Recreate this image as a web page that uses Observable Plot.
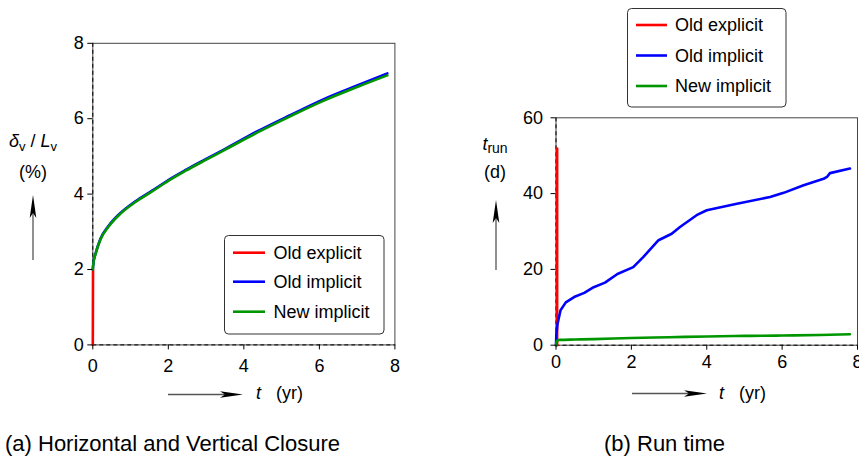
<!DOCTYPE html>
<html><head><meta charset="utf-8">
<script src="https://cdn.jsdelivr.net/npm/d3@7"></script>
<script src="https://cdn.jsdelivr.net/npm/@observablehq/plot@0.6"></script>
<style>
html,body{margin:0;padding:0;background:#fff;overflow:hidden;}
#root{position:relative;width:859px;height:463px;overflow:hidden;font-family:"Liberation Sans",Arial,sans-serif;}
.panel{position:absolute;top:0;}
#overlay{position:absolute;left:0;top:0;}
</style></head><body><div id="root"><div id="pa" class="panel" style="left:0;width:430px"></div><div id="pb" class="panel" style="left:430px;width:440px"></div></div>
<script>
// ---- data ----
const seriesNames = ["Old explicit", "Old implicit", "New implicit"];
const seriesColors = ["#ff0000", "#0000ff", "#009600"];
const xTicks = [0, 2, 4, 6, 8];
const yTicksA = [0, 2, 4, 6, 8];
const yTicksB = [0, 20, 40, 60];

// (a) closure δv/Lv (%) vs t (yr)
const tA_explicit = [0, 0.003, 0.006];
const dA_explicit = [0, 1.0, 2.0];
const tA_implicit = [0, 0.02, 0.07, 0.2, 0.42, 0.69, 1.13, 1.57, 2.01, 2.46, 2.94, 3.47, 4.35, 5.24, 6.12, 7.0, 7.8];
const dA_oldImplicit = [2.0, 2.2, 2.41, 2.81, 3.16, 3.46, 3.81, 4.09, 4.38, 4.64, 4.9, 5.18, 5.66, 6.1, 6.52, 6.88, 7.2];
const dA_newImplicit = [2.0, 2.2, 2.4, 2.79, 3.14, 3.44, 3.79, 4.07, 4.36, 4.62, 4.88, 5.16, 5.63, 6.07, 6.48, 6.84, 7.15];

// (b) run time t_run (d) vs t (yr)
const tB_explicit = [0.03, 0.03];
const rB_explicit = [0, 51.9];
const tB_oldImplicit = [0, 0.01, 0.04, 0.12, 0.26, 0.48, 0.75, 1.0, 1.3, 1.63, 2.05, 2.32, 2.72, 3.07, 3.29, 3.73, 4.0, 4.8, 5.68, 6.04, 6.57, 7.1, 7.2, 7.27, 7.8];
const rB_oldImplicit = [0, 3, 5.6, 9.2, 11.3, 12.7, 13.8, 15.3, 16.5, 18.8, 20.6, 23.3, 27.7, 29.4, 31.2, 34.3, 35.6, 37.3, 39.1, 40.2, 42.2, 43.9, 44.5, 45.4, 46.6];
const tB_newImplicit = [0, 0.02, 0.1, 0.5, 1, 2, 3, 4, 5, 6, 7, 7.8];
const rB_newImplicit = [0, 1.1, 1.4, 1.5, 1.6, 1.9, 2.1, 2.3, 2.45, 2.55, 2.7, 2.9];

const captions = ["(a) Horizontal and Vertical Closure", "(b) Run time"];

// ---- build ----
const pts = (xs, ys) => xs.map((x, i) => ({x, y: ys[i]}));
const font = '"Liberation Sans", Arial, sans-serif';

function panel({width, height, mL, mR, mT, mB, yDomain, yTicks, xPad, yPad, series}) {
  return Plot.plot({
    width, height, marginLeft: mL, marginRight: mR, marginTop: mT, marginBottom: mB,
    style: {fontFamily: font, fontSize: "18px", color: "#000", background: "transparent", overflow: "visible"},
    x: {domain: [0, 8]},
    y: {domain: yDomain},
    marks: [
      Plot.frame({stroke: "#444", strokeWidth: 1}),
      Plot.ruleY([0], {stroke: "#000", strokeDasharray: "4,3", strokeWidth: 1}),
      Plot.ruleX([0], {stroke: "#000", strokeDasharray: "4,3", strokeWidth: 1}),
      ...series.map(s => Plot.line(pts(s.x, s.y), {x: "x", y: "y", stroke: s.color, strokeWidth: 2.6, curve: s.curve || "linear"})),
      Plot.axisX({ticks: xTicks, tickSize: 5, tickPadding: xPad, label: null, fontSize: 18}),
      Plot.axisY({ticks: yTicks, tickSize: 5, tickPadding: yPad, label: null, fontSize: 18})
    ]
  });
}

document.getElementById("pa").appendChild(panel({
  width: 430, height: 400, mL: 92.3, mR: 35.6, mT: 42.8, mB: 55.6,
  yDomain: [0, 8], yTicks: yTicksA, xPad: 9, yPad: 4,
  series: [
    {x: tA_explicit, y: dA_explicit, color: seriesColors[0]},
    {x: tA_implicit, y: dA_oldImplicit, color: seriesColors[1], curve: "monotone-x"},
    {x: tA_implicit, y: dA_newImplicit, color: seriesColors[2], curve: "monotone-x"}
  ]
}));

document.getElementById("pb").appendChild(panel({
  width: 440, height: 400, mL: 125.5, mR: 13, mT: 117.3, mB: 55.3,
  yDomain: [0, 60], yTicks: yTicksB, xPad: 5, yPad: 8,
  series: [
    {x: tB_explicit, y: rB_explicit, color: seriesColors[0]},
    {x: tB_oldImplicit, y: rB_oldImplicit, color: seriesColors[1]},
    {x: tB_newImplicit, y: rB_newImplicit, color: seriesColors[2], curve: "monotone-x"}
  ]
}));

// ---- overlay: legends, axis titles, arrows, captions ----
function hArrow(x0, x1, y) {
  return `<line x1="${x0}" y1="${y}" x2="${x1-18}" y2="${y}" stroke="#555" stroke-width="1.3"/>
  <polygon points="${x1},${y} ${x1-23},${y-3.3} ${x1-18},${y} ${x1-23},${y+3.3}" fill="#000"/>`;
}
function vArrow(x, y0, y1) { // y0 tail (bottom), y1 tip (top)
  return `<line x1="${x}" y1="${y0}" x2="${x}" y2="${y1+18}" stroke="#555" stroke-width="1.3"/>
  <polygon points="${x},${y1} ${x-3.3},${y1+23} ${x},${y1+18} ${x+3.3},${y1+23}" fill="#000"/>`;
}
function legend(bx, by, bw, bh, lx0, lx1, tx, rows) {
  let s = `<rect x="${bx}" y="${by}" width="${bw}" height="${bh}" rx="4" fill="#fff" stroke="#333" stroke-width="1"/>`;
  seriesNames.forEach((n, i) => {
    s += `<line x1="${lx0}" x2="${lx1}" y1="${rows[i]}" y2="${rows[i]}" stroke="${seriesColors[i]}" stroke-width="2.6"/>`;
    s += `<text x="${tx}" y="${rows[i]}" dy="0.35em" font-size="18">${n}</text>`;
  });
  return s;
}
const svg = `<svg id="overlay" width="859" height="463" font-family='${font}' fill="#000">
${legend(224.5, 235.5, 159.5, 98.5, 233, 265, 273.5, [252.7, 281.7, 311.7])}
${legend(627.5, 8.5, 158.5, 98.5, 636, 667, 675, [25, 55.5, 86])}
<text x="33" y="147" text-anchor="middle" font-size="18"><tspan font-style="italic">δ</tspan><tspan font-size="13" dy="4">v</tspan><tspan dy="-4"> / </tspan><tspan font-style="italic">L</tspan><tspan font-size="13" dy="4">v</tspan></text>
<text x="33" y="178" text-anchor="middle" font-size="18">(%)</text>
${vArrow(33, 260, 195)}
<text x="495" y="150" text-anchor="middle" font-size="18"><tspan font-style="italic">t</tspan><tspan font-size="14" dy="3">run</tspan></text>
<text x="495" y="178" text-anchor="middle" font-size="18">(d)</text>
${vArrow(496, 270, 200)}
${hArrow(168, 243, 394.5)}
<text x="256" y="399" font-size="18" font-style="italic">t</text>
<text x="276" y="399" font-size="18">(yr)</text>
${hArrow(632, 707, 393.5)}
<text x="719" y="399" font-size="18" font-style="italic">t</text>
<text x="739" y="399" font-size="18">(yr)</text>
<text x="5" y="451" font-size="22">${captions[0]}</text>
<text x="604" y="451" font-size="22">${captions[1]}</text>
</svg>`;
document.getElementById("root").insertAdjacentHTML("beforeend", svg);
</script></body></html>
